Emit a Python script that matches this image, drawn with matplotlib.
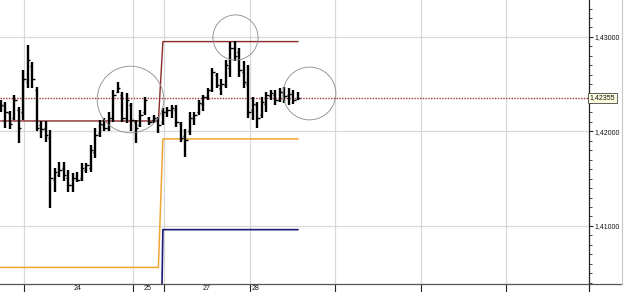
import numpy as np
import matplotlib
matplotlib.use('Agg')
import matplotlib.pyplot as plt
from matplotlib.lines import Line2D

# OHLC bars (price)
highs = [1.4233, 1.4231, 1.4222, 1.4239, 1.4226, 1.4265, 1.4291, 1.4273, 1.4247, 1.4211,
         1.4211, 1.4201, 1.4161, 1.4168, 1.4168, 1.4159, 1.4156, 1.4157, 1.4167, 1.4167,
         1.4186, 1.4204, 1.4212, 1.4214, 1.4221, 1.4244, 1.4252, 1.4242, 1.4241, 1.4230,
         1.4212, 1.4223, 1.4236, 1.4215, 1.4217, 1.4215, 1.4225, 1.4226, 1.4228, 1.4228,
         1.4210, 1.4202, 1.4221, 1.4221, 1.4233, 1.4238, 1.4246, 1.4267, 1.4262, 1.4255,
         1.4276, 1.4295, 1.4296, 1.4288, 1.4274, 1.4270, 1.4236, 1.4231, 1.4236, 1.4242,
         1.4244, 1.4244, 1.4246, 1.4247, 1.4246, 1.4244, 1.4242]
lows = [1.4220, 1.4204, 1.4202, 1.4212, 1.4188, 1.4212, 1.4246, 1.4246, 1.4200, 1.4193,
        1.4189, 1.4119, 1.4136, 1.4152, 1.4147, 1.4136, 1.4136, 1.4146, 1.4147, 1.4156,
        1.4157, 1.4172, 1.4194, 1.4200, 1.4200, 1.4210, 1.4241, 1.4210, 1.4209, 1.4200,
        1.4188, 1.4205, 1.4217, 1.4207, 1.4209, 1.4198, 1.4207, 1.4215, 1.4214, 1.4205,
        1.4189, 1.4173, 1.4196, 1.4207, 1.4217, 1.4222, 1.4233, 1.4242, 1.4246, 1.4239,
        1.4246, 1.4258, 1.4274, 1.4258, 1.4246, 1.4214, 1.4212, 1.4204, 1.4214, 1.4221,
        1.4233, 1.4228, 1.4231, 1.4230, 1.4228, 1.4229, 1.4233]
opens = [1.4225, 1.4227, 1.4219, 1.4214, 1.4223, 1.4221, 1.4252, 1.4269, 1.4244, 1.4207,
         1.4204, 1.4193, 1.4149, 1.4154, 1.4161, 1.4151, 1.4143, 1.4151, 1.4151, 1.4159,
         1.4161, 1.4178, 1.4198, 1.4207, 1.4204, 1.4214, 1.4242, 1.4239, 1.4214, 1.4228,
         1.4210, 1.4207, 1.4221, 1.4214, 1.4212, 1.4212, 1.4210, 1.4221, 1.4223, 1.4223,
         1.4208, 1.4195, 1.4200, 1.4214, 1.4220, 1.4229, 1.4236, 1.4244, 1.4260, 1.4246,
         1.4249, 1.4267, 1.4288, 1.4284, 1.4263, 1.4250, 1.4223, 1.4228, 1.4217, 1.4229,
         1.4237, 1.4238, 1.4233, 1.4242, 1.4238, 1.4240, 1.4234]
closes = [1.4228, 1.4221, 1.4208, 1.4233, 1.4204, 1.4255, 1.4276, 1.4255, 1.4204, 1.4202,
          1.4196, 1.4151, 1.4157, 1.4159, 1.4154, 1.4143, 1.4151, 1.4149, 1.4161, 1.4164,
          1.4180, 1.4196, 1.4208, 1.4204, 1.4214, 1.4239, 1.4246, 1.4214, 1.4233, 1.4212,
          1.4204, 1.4217, 1.4233, 1.4210, 1.4214, 1.4207, 1.4221, 1.4223, 1.4225, 1.4210,
          1.4193, 1.4191, 1.4214, 1.4217, 1.4230, 1.4236, 1.4244, 1.4263, 1.4249, 1.4250,
          1.4270, 1.4288, 1.4280, 1.4265, 1.4252, 1.4221, 1.4229, 1.4214, 1.4231, 1.4238,
          1.4241, 1.4233, 1.4242, 1.4237, 1.4240, 1.4233, 1.42355]

# levels: before / after the switch bar
switch_bar = 36
resist_levels = [1.4211, 1.4295]
support_levels = [1.4056, 1.4192]
lower_levels = [1.3800, 1.4096]
last_price = 1.42355
last_label = '1,42355'

# day boundaries (in bar units) and day labels
day_edges = [5.1, 29.3, 36.2, 55.3, 74.3, 93.3, 112.3]
day_label_pos = [17.1, 32.7, 45.6, 56.7]
day_labels = ['24', '25', '27', '28']

price_ticks = [1.41, 1.42, 1.43]
price_tick_labels = ['1,41000', '1,42000', '1,43000']

# highlighted zones
circle_x = [28.7, 52.1, 68.4]
circle_y = [1.4234, 1.4300, 1.4241]
circle_diam = [48, 32.5, 38]

plt.rcParams['font.family'] = ['Liberation Sans', 'DejaVu Sans']

W, H = 625, 292
fig = plt.figure(figsize=(W / 100, H / 100), dpi=100)
ax = fig.add_axes([0, 8 / H, 589 / W, 284 / H])

n = len(highs)
idx = np.arange(n)

ax.set_xlim(-0.2, 130.7)
ax.set_ylim(1.40385, 1.4339)

# grid
ax.set_xticks(day_edges)
ax.set_xticklabels([])
ax.set_xticks(day_label_pos, minor=True)
ax.set_xticklabels(day_labels, minor=True, fontsize=5)
ax.set_yticks(price_ticks)
ax.set_yticklabels(price_tick_labels, fontsize=5)
ax.set_yticks(np.arange(1.404, 1.4335, 0.001), minor=True)
ax.grid(True, which='major', color='#d9d9d9', lw=0.9)
ax.set_axisbelow(True)

ax.yaxis.tick_right()
ax.tick_params(axis='y', which='major', direction='out', length=3, width=0.8,
               color='#222222', pad=1, labelcolor='#111111')
ax.tick_params(axis='y', which='minor', direction='out', length=2, width=0.6,
               color='#222222')
ax.tick_params(axis='x', which='major', direction='out', length=6, width=0.8,
               color='#222222')
ax.tick_params(axis='x', which='minor', length=0, pad=0.8, labelcolor='#111111')

for s in ['top', 'left']:
    ax.spines[s].set_visible(False)
ax.spines['right'].set_color('#222222')
ax.spines['right'].set_linewidth(0.9)
ax.spines['bottom'].set_color('#555555')
ax.spines['bottom'].set_linewidth(0.9)

# level lines
resist = [resist_levels[0]] * switch_bar + [resist_levels[1]] * (n - switch_bar)
support = [support_levels[0]] * switch_bar + [support_levels[1]] * (n - switch_bar)
lower = [lower_levels[0]] * switch_bar + [lower_levels[1]] * (n - switch_bar)
ax.plot(idx, support, color='#f0a535', lw=1.1, zorder=2)
ax.plot(idx, lower, color='#1c1c78', lw=1.2, zorder=2)
ax.plot(idx, resist, color='#8a2a2a', lw=1.0, zorder=2)

ax.axhline(last_price, color='#a03838', lw=1.0, ls=(0, (1, 1)), zorder=2)

# OHLC bars
ax.vlines(idx, lows, highs, color='black', lw=1.7, zorder=3)
ax.hlines(opens, idx - 0.5, idx, color='black', lw=1.0, zorder=3)
ax.hlines(closes, idx, idx + 0.5, color='black', lw=1.0, zorder=3)

# circles
for cx, cy, d in zip(circle_x, circle_y, circle_diam):
    ax.plot([cx], [cy], marker='o', ms=d, mfc='none', mec='#8a8a8a', mew=0.6, zorder=4)

# last price tag
ax.text(1.0015, last_price, last_label, transform=ax.get_yaxis_transform(),
        ha='left', va='center', fontsize=5, color='#111111', zorder=5,
        bbox=dict(boxstyle='square,pad=0.25', fc='#fbfbe0', ec='#444444', lw=0.6))

# frame bits outside axes
fig.add_artist(Line2D([589 / W, 589 / W], [0, 8 / H], color='#222222', lw=0.9))
fig.add_artist(Line2D([589 / W, 622 / W], [8 / H, 8 / H], color='#555555', lw=0.9))
fig.add_artist(Line2D([622 / W, 622 / W], [8 / H, 1], color='#c8c8c8', lw=0.8))

fig.savefig('out.png', dpi=100)
